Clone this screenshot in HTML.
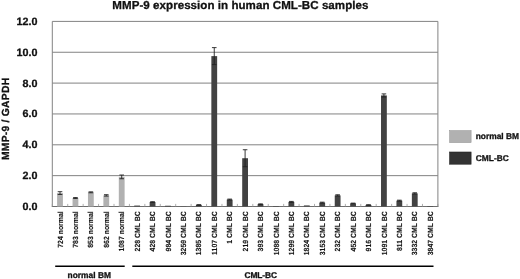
<!DOCTYPE html><html><head><meta charset="utf-8"><title>MMP-9 expression</title><style>html,body{margin:0;padding:0;background:#fff}svg{display:block;filter:blur(0.3px)}text{text-rendering:geometricPrecision;stroke:#111;stroke-linejoin:round}</style></head><body><svg width="520" height="279" viewBox="0 0 520 279" font-family="'Liberation Sans', Arial, sans-serif" font-weight="bold" fill="#111">
<rect width="520" height="279" fill="#fff"/>
<line x1="52.3" x2="437.9" y1="206.50" y2="206.50" stroke="#828282" stroke-width="1"/>
<line x1="52.3" x2="437.9" y1="175.65" y2="175.65" stroke="#828282" stroke-width="1"/>
<line x1="52.3" x2="437.9" y1="144.80" y2="144.80" stroke="#828282" stroke-width="1"/>
<line x1="52.3" x2="437.9" y1="113.95" y2="113.95" stroke="#828282" stroke-width="1"/>
<line x1="52.3" x2="437.9" y1="83.10" y2="83.10" stroke="#828282" stroke-width="1"/>
<line x1="52.3" x2="437.9" y1="52.25" y2="52.25" stroke="#828282" stroke-width="1"/>
<line x1="52.3" x2="437.9" y1="21.40" y2="21.40" stroke="#828282" stroke-width="1"/>
<line x1="52.3" x2="52.3" y1="21.4" y2="206.5" stroke="#828282" stroke-width="1"/>
<line x1="437.9" x2="437.9" y1="21.4" y2="206.5" stroke="#828282" stroke-width="1"/>
<line x1="51.8" x2="438.4" y1="206.5" y2="206.5" stroke="#6e6e6e" stroke-width="1"/>
<line x1="52.30" x2="52.30" y1="203.90" y2="206.50" stroke="#9a9a9a" stroke-width="0.8"/>
<line x1="67.72" x2="67.72" y1="203.90" y2="206.50" stroke="#9a9a9a" stroke-width="0.8"/>
<line x1="83.15" x2="83.15" y1="203.90" y2="206.50" stroke="#9a9a9a" stroke-width="0.8"/>
<line x1="98.57" x2="98.57" y1="203.90" y2="206.50" stroke="#9a9a9a" stroke-width="0.8"/>
<line x1="114.00" x2="114.00" y1="203.90" y2="206.50" stroke="#9a9a9a" stroke-width="0.8"/>
<line x1="129.42" x2="129.42" y1="203.90" y2="206.50" stroke="#9a9a9a" stroke-width="0.8"/>
<line x1="144.84" x2="144.84" y1="203.90" y2="206.50" stroke="#9a9a9a" stroke-width="0.8"/>
<line x1="160.27" x2="160.27" y1="203.90" y2="206.50" stroke="#9a9a9a" stroke-width="0.8"/>
<line x1="175.69" x2="175.69" y1="203.90" y2="206.50" stroke="#9a9a9a" stroke-width="0.8"/>
<line x1="191.12" x2="191.12" y1="203.90" y2="206.50" stroke="#9a9a9a" stroke-width="0.8"/>
<line x1="206.54" x2="206.54" y1="203.90" y2="206.50" stroke="#9a9a9a" stroke-width="0.8"/>
<line x1="221.96" x2="221.96" y1="203.90" y2="206.50" stroke="#9a9a9a" stroke-width="0.8"/>
<line x1="237.39" x2="237.39" y1="203.90" y2="206.50" stroke="#9a9a9a" stroke-width="0.8"/>
<line x1="252.81" x2="252.81" y1="203.90" y2="206.50" stroke="#9a9a9a" stroke-width="0.8"/>
<line x1="268.24" x2="268.24" y1="203.90" y2="206.50" stroke="#9a9a9a" stroke-width="0.8"/>
<line x1="283.66" x2="283.66" y1="203.90" y2="206.50" stroke="#9a9a9a" stroke-width="0.8"/>
<line x1="299.08" x2="299.08" y1="203.90" y2="206.50" stroke="#9a9a9a" stroke-width="0.8"/>
<line x1="314.51" x2="314.51" y1="203.90" y2="206.50" stroke="#9a9a9a" stroke-width="0.8"/>
<line x1="329.93" x2="329.93" y1="203.90" y2="206.50" stroke="#9a9a9a" stroke-width="0.8"/>
<line x1="345.36" x2="345.36" y1="203.90" y2="206.50" stroke="#9a9a9a" stroke-width="0.8"/>
<line x1="360.78" x2="360.78" y1="203.90" y2="206.50" stroke="#9a9a9a" stroke-width="0.8"/>
<line x1="376.20" x2="376.20" y1="203.90" y2="206.50" stroke="#9a9a9a" stroke-width="0.8"/>
<line x1="391.63" x2="391.63" y1="203.90" y2="206.50" stroke="#9a9a9a" stroke-width="0.8"/>
<line x1="407.05" x2="407.05" y1="203.90" y2="206.50" stroke="#9a9a9a" stroke-width="0.8"/>
<line x1="422.48" x2="422.48" y1="203.90" y2="206.50" stroke="#9a9a9a" stroke-width="0.8"/>
<line x1="437.90" x2="437.90" y1="203.90" y2="206.50" stroke="#9a9a9a" stroke-width="0.8"/>
<rect x="57.11" y="193.08" width="5.8" height="13.42" fill="#b1b1b1"/>
<path d="M60.01 191.69V194.47M57.71 191.69H62.31M57.71 194.47H62.31" stroke="#222" stroke-width="0.9" fill="none"/>
<rect x="72.54" y="198.02" width="5.8" height="8.48" fill="#b1b1b1"/>
<path d="M75.44 197.55V198.48M73.14 197.55H77.74M73.14 198.48H77.74" stroke="#222" stroke-width="0.9" fill="none"/>
<rect x="87.96" y="192.31" width="5.8" height="14.19" fill="#b1b1b1"/>
<path d="M90.86 191.85V192.77M88.56 191.85H93.16M88.56 192.77H93.16" stroke="#222" stroke-width="0.9" fill="none"/>
<rect x="103.38" y="195.39" width="5.8" height="11.11" fill="#b1b1b1"/>
<path d="M106.28 194.70V196.09M103.98 194.70H108.58M103.98 196.09H108.58" stroke="#222" stroke-width="0.9" fill="none"/>
<rect x="118.81" y="176.88" width="5.8" height="29.62" fill="#b1b1b1"/>
<path d="M121.71 175.03V178.74M119.41 175.03H124.01M119.41 178.74H124.01" stroke="#222" stroke-width="0.9" fill="none"/>
<rect x="134.23" y="205.57" width="5.8" height="0.93" fill="#424242"/>
<rect x="149.66" y="202.03" width="5.8" height="4.47" fill="#424242"/>
<path d="M152.56 201.72V202.34M150.26 201.72H154.86M150.26 202.34H154.86" stroke="#222" stroke-width="0.9" fill="none"/>
<rect x="165.08" y="205.73" width="5.8" height="0.77" fill="#424242"/>
<rect x="180.50" y="206.27" width="5.8" height="0.23" fill="#424242"/>
<rect x="195.93" y="204.96" width="5.8" height="1.54" fill="#424242"/>
<path d="M198.83 204.65V205.27M196.53 204.65H201.13M196.53 205.27H201.13" stroke="#222" stroke-width="0.9" fill="none"/>
<rect x="211.35" y="56.11" width="5.8" height="150.39" fill="#424242"/>
<path d="M214.25 47.62V64.59M211.95 47.62H216.55M211.95 64.59H216.55" stroke="#222" stroke-width="0.9" fill="none"/>
<rect x="226.78" y="199.56" width="5.8" height="6.94" fill="#424242"/>
<path d="M229.68 199.10V200.02M227.38 199.10H231.98M227.38 200.02H231.98" stroke="#222" stroke-width="0.9" fill="none"/>
<rect x="242.20" y="158.22" width="5.8" height="48.28" fill="#424242"/>
<path d="M245.10 149.74V166.70M242.80 149.74H247.40M242.80 166.70H247.40" stroke="#222" stroke-width="0.9" fill="none"/>
<rect x="257.62" y="204.19" width="5.8" height="2.31" fill="#424242"/>
<path d="M260.52 203.88V204.49M258.22 203.88H262.82M258.22 204.49H262.82" stroke="#222" stroke-width="0.9" fill="none"/>
<rect x="273.05" y="206.04" width="5.8" height="0.46" fill="#424242"/>
<rect x="288.47" y="201.87" width="5.8" height="4.63" fill="#424242"/>
<path d="M291.37 201.41V202.34M289.07 201.41H293.67M289.07 202.34H293.67" stroke="#222" stroke-width="0.9" fill="none"/>
<rect x="303.90" y="205.42" width="5.8" height="1.08" fill="#424242"/>
<rect x="319.32" y="202.64" width="5.8" height="3.86" fill="#424242"/>
<path d="M322.22 202.18V203.11M319.92 202.18H324.52M319.92 203.11H324.52" stroke="#222" stroke-width="0.9" fill="none"/>
<rect x="334.74" y="195.39" width="5.8" height="11.11" fill="#424242"/>
<path d="M337.64 194.78V196.01M335.34 194.78H339.94M335.34 196.01H339.94" stroke="#222" stroke-width="0.9" fill="none"/>
<rect x="350.17" y="203.41" width="5.8" height="3.09" fill="#424242"/>
<path d="M353.07 203.11V203.72M350.77 203.11H355.37M350.77 203.72H355.37" stroke="#222" stroke-width="0.9" fill="none"/>
<rect x="365.59" y="204.96" width="5.8" height="1.54" fill="#424242"/>
<path d="M368.49 204.80V205.11M366.19 204.80H370.79M366.19 205.11H370.79" stroke="#222" stroke-width="0.9" fill="none"/>
<rect x="381.02" y="95.44" width="5.8" height="111.06" fill="#424242"/>
<path d="M383.92 93.90V96.98M381.62 93.90H386.22M381.62 96.98H386.22" stroke="#222" stroke-width="0.9" fill="none"/>
<rect x="396.44" y="200.64" width="5.8" height="5.86" fill="#424242"/>
<path d="M399.34 200.18V201.10M397.04 200.18H401.64M397.04 201.10H401.64" stroke="#222" stroke-width="0.9" fill="none"/>
<rect x="411.86" y="193.39" width="5.8" height="13.11" fill="#424242"/>
<path d="M414.76 192.77V194.01M412.46 192.77H417.06M412.46 194.01H417.06" stroke="#222" stroke-width="0.9" fill="none"/>
<rect x="427.29" y="206.04" width="5.8" height="0.46" fill="#424242"/>
<text transform="translate(37.60 209.90) scale(0.1020 0.1000)" font-size="106.0" stroke-width="3.0" text-anchor="end">0.0</text>
<text transform="translate(37.60 179.05) scale(0.1020 0.1000)" font-size="106.0" stroke-width="3.0" text-anchor="end">2.0</text>
<text transform="translate(37.60 148.20) scale(0.1020 0.1000)" font-size="106.0" stroke-width="3.0" text-anchor="end">4.0</text>
<text transform="translate(37.60 117.35) scale(0.1020 0.1000)" font-size="106.0" stroke-width="3.0" text-anchor="end">6.0</text>
<text transform="translate(37.60 86.50) scale(0.1020 0.1000)" font-size="106.0" stroke-width="3.0" text-anchor="end">8.0</text>
<text transform="translate(37.60 55.65) scale(0.1020 0.1000)" font-size="106.0" stroke-width="3.0" text-anchor="end">10.0</text>
<text transform="translate(37.60 24.80) scale(0.1020 0.1000)" font-size="106.0" stroke-width="3.0" text-anchor="end">12.0</text>
<text transform="translate(112.35 8.80) scale(0.1000 0.1000)" font-size="116.0" stroke-width="3.0" textLength="2561.0" lengthAdjust="spacing">MMP-9 expression in human CML-BC samples</text>
<text transform="translate(8.80 160.05) rotate(-90) scale(0.1000 0.1000)" font-size="104.0" stroke-width="3.0" textLength="822.0" lengthAdjust="spacing">MMP-9 / GAPDH</text>
<text transform="translate(62.61 211.30) rotate(-90) scale(0.0920 0.1000)" font-size="75.0" stroke-width="1.0" text-anchor="end">724 normal</text>
<text transform="translate(78.04 211.30) rotate(-90) scale(0.0920 0.1000)" font-size="75.0" stroke-width="1.0" text-anchor="end">783 normal</text>
<text transform="translate(93.46 211.30) rotate(-90) scale(0.0920 0.1000)" font-size="75.0" stroke-width="1.0" text-anchor="end">853 normal</text>
<text transform="translate(108.88 211.30) rotate(-90) scale(0.0920 0.1000)" font-size="75.0" stroke-width="1.0" text-anchor="end">862 normal</text>
<text transform="translate(124.31 211.30) rotate(-90) scale(0.0920 0.1000)" font-size="75.0" stroke-width="1.0" text-anchor="end">1087 normal</text>
<text transform="translate(139.73 211.30) rotate(-90) scale(0.0920 0.1000)" font-size="75.0" stroke-width="1.0" text-anchor="end">228 CML BC</text>
<text transform="translate(155.16 211.30) rotate(-90) scale(0.0920 0.1000)" font-size="75.0" stroke-width="1.0" text-anchor="end">428 CML BC</text>
<text transform="translate(170.58 211.30) rotate(-90) scale(0.0920 0.1000)" font-size="75.0" stroke-width="1.0" text-anchor="end">984 CML BC</text>
<text transform="translate(186.00 211.30) rotate(-90) scale(0.0920 0.1000)" font-size="75.0" stroke-width="1.0" text-anchor="end">3259 CML BC</text>
<text transform="translate(201.43 211.30) rotate(-90) scale(0.0920 0.1000)" font-size="75.0" stroke-width="1.0" text-anchor="end">1385 CML BC</text>
<text transform="translate(216.85 211.30) rotate(-90) scale(0.0920 0.1000)" font-size="75.0" stroke-width="1.0" text-anchor="end">1107 CML BC</text>
<text transform="translate(232.28 211.30) rotate(-90) scale(0.0920 0.1000)" font-size="75.0" stroke-width="1.0" text-anchor="end">1 CML BC</text>
<text transform="translate(247.70 211.30) rotate(-90) scale(0.0920 0.1000)" font-size="75.0" stroke-width="1.0" text-anchor="end">219 CML BC</text>
<text transform="translate(263.12 211.30) rotate(-90) scale(0.0920 0.1000)" font-size="75.0" stroke-width="1.0" text-anchor="end">393 CML BC</text>
<text transform="translate(278.55 211.30) rotate(-90) scale(0.0920 0.1000)" font-size="75.0" stroke-width="1.0" text-anchor="end">1088 CML BC</text>
<text transform="translate(293.97 211.30) rotate(-90) scale(0.0920 0.1000)" font-size="75.0" stroke-width="1.0" text-anchor="end">1299 CML BC</text>
<text transform="translate(309.40 211.30) rotate(-90) scale(0.0920 0.1000)" font-size="75.0" stroke-width="1.0" text-anchor="end">1824 CML BC</text>
<text transform="translate(324.82 211.30) rotate(-90) scale(0.0920 0.1000)" font-size="75.0" stroke-width="1.0" text-anchor="end">3153 CML BC</text>
<text transform="translate(340.24 211.30) rotate(-90) scale(0.0920 0.1000)" font-size="75.0" stroke-width="1.0" text-anchor="end">232 CML BC</text>
<text transform="translate(355.67 211.30) rotate(-90) scale(0.0920 0.1000)" font-size="75.0" stroke-width="1.0" text-anchor="end">452 CML BC</text>
<text transform="translate(371.09 211.30) rotate(-90) scale(0.0920 0.1000)" font-size="75.0" stroke-width="1.0" text-anchor="end">916 CML BC</text>
<text transform="translate(386.52 211.30) rotate(-90) scale(0.0920 0.1000)" font-size="75.0" stroke-width="1.0" text-anchor="end">1091 CML BC</text>
<text transform="translate(401.94 211.30) rotate(-90) scale(0.0920 0.1000)" font-size="75.0" stroke-width="1.0" text-anchor="end">811 CML BC</text>
<text transform="translate(417.36 211.30) rotate(-90) scale(0.0920 0.1000)" font-size="75.0" stroke-width="1.0" text-anchor="end">3332 CML BC</text>
<text transform="translate(432.79 211.30) rotate(-90) scale(0.0920 0.1000)" font-size="75.0" stroke-width="1.0" text-anchor="end">3847 CML BC</text>
<line x1="55.2" x2="124.7" y1="266.3" y2="266.3" stroke="#000" stroke-width="1.4"/>
<line x1="132.3" x2="433.5" y1="266.3" y2="266.3" stroke="#000" stroke-width="1.4"/>
<text transform="translate(67.50 277.60) scale(0.1000 0.1000)" font-size="84.0" stroke-width="3.0" textLength="435.0" lengthAdjust="spacing">normal BM</text>
<text transform="translate(244.50 277.60) scale(0.1000 0.1000)" font-size="84.0" stroke-width="3.0" textLength="325.0" lengthAdjust="spacing">CML-BC</text>
<rect x="449.6" y="130.6" width="21.5" height="12" fill="#b1b1b1" stroke="#9a9a9a" stroke-width="0.6"/>
<rect x="449.6" y="152" width="21.5" height="12.2" fill="#333" stroke="#222" stroke-width="0.6"/>
<text transform="translate(475.70 139.30) scale(0.1000 0.1000)" font-size="84.0" stroke-width="3.0" textLength="434.0" lengthAdjust="spacing">normal BM</text>
<text transform="translate(475.70 160.80) scale(0.1000 0.1000)" font-size="84.0" stroke-width="3.0">CML-BC</text>
</svg></body></html>
